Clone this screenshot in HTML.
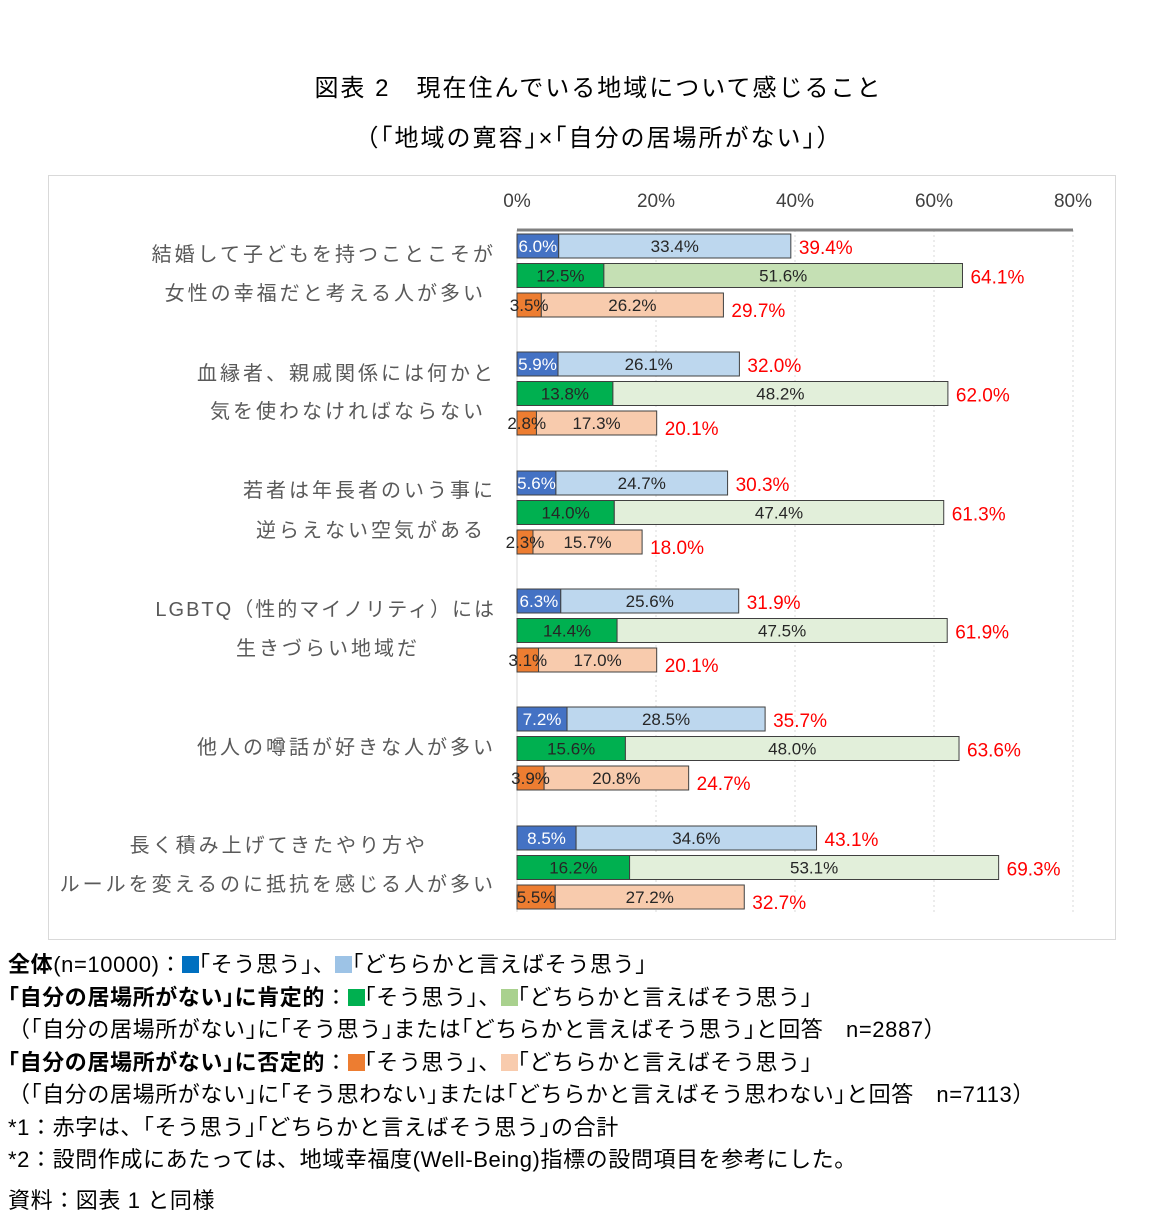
<!DOCTYPE html><html><head><meta charset="utf-8"><style>
body{margin:0;background:#fff;width:1161px;height:1213px;overflow:hidden;font-family:"Liberation Sans","Noto Sans CJK JP",sans-serif}
.t{position:absolute;left:0;width:1161px;text-align:center;font-size:24px;color:#000;letter-spacing:2px}
.n{position:absolute;left:8px;font-size:22px;color:#000;white-space:nowrap;letter-spacing:0.6px}
.sq{display:inline-block;width:17px;height:17px;vertical-align:-1px}
</style></head><body>
<div class="t" style="top:68px;left:18px">図表 2　現在住んでいる地域について感じること</div>
<div class="t" style="top:118px;left:18px">（｢地域の寛容｣×｢自分の居場所がない｣）</div>
<svg style="position:absolute;left:0;top:0" width="1161" height="945" font-family="Liberation Sans,Noto Sans CJK JP,sans-serif">
<rect x="48.5" y="175.5" width="1067" height="764" fill="#fff" stroke="#d9d9d9"/>
<g stroke="#d9d9d9" stroke-dasharray="2,3">
<line x1="656" y1="230" x2="656" y2="912"/><line x1="795" y1="230" x2="795" y2="912"/><line x1="934" y1="230" x2="934" y2="912"/><line x1="1073" y1="230" x2="1073" y2="912"/></g>
<line x1="517" y1="230" x2="517" y2="912" stroke="#d9d9d9"/>
<line x1="517" y1="230" x2="1073" y2="230" stroke="#808080" stroke-width="3"/>
<g font-size="19" fill="#404040" text-anchor="middle"><text x="517" y="207">0%</text><text x="656" y="207">20%</text><text x="795" y="207">40%</text><text x="934" y="207">60%</text><text x="1073" y="207">80%</text></g>
<g font-size="20" fill="#595959" text-anchor="end" letter-spacing="3">
<text x="496" y="261">結婚して子どもを持つことこそが</text><text x="486" y="300">女性の幸福だと考える人が多い</text>
<text x="496" y="380">血縁者、親戚関係には何かと</text><text x="486" y="418">気を使わなければならない</text>
<text x="496" y="497">若者は年長者のいう事に</text><text x="486" y="537">逆らえない空気がある</text>
<text x="496" y="616" letter-spacing="2">LGBTQ（性的マイノリティ）には</text><text x="420" y="655">生きづらい地域だ</text>
<text x="496" y="754">他人の噂話が好きな人が多い</text>
<text x="428" y="852">長く積み上げてきたやり方や</text><text x="496" y="891">ルールを変えるのに抵抗を感じる人が多い</text>
</g>
<g id="bars" font-size="17"></g>
</svg>
<script>
var d=[[6.0,33.4,12.5,51.6,3.5,26.2],[5.9,26.1,13.8,48.2,2.8,17.3],[5.6,24.7,14.0,47.4,2.3,15.7],[6.3,25.6,14.4,47.5,3.1,17.0],[7.2,28.5,15.6,48.0,3.9,20.8],[8.5,34.6,16.2,53.1,5.5,27.2]];
var tot=[[39.4,64.1,29.7],[32.0,62.0,20.1],[30.3,61.3,18.0],[31.9,61.9,20.1],[35.7,63.6,24.7],[43.1,69.3,32.7]];
var tops=[234,352,471,589,707,826],s=6.95,h='';
var cols=[['#4472c4','#bdd7ee','#fff'],['#00b050','#c5e0b4','#262626'],['#ed7d31','#f8cbad','#262626']];
d.forEach(function(r,g){for(var k=0;k<3;k++){var y=tops[g]+k*29.5,a=r[2*k],b=r[2*k+1],c=cols[k],x1=517+a*s,x2=x1+b*s;
var lg=(k==1&&g>0)?'#e2efda':c[1];
h+='<rect x="517" y="'+y+'" width="'+(a*s)+'" height="24" fill="'+c[0]+'" stroke="#404040"/>';
h+='<rect x="'+x1+'" y="'+y+'" width="'+(b*s)+'" height="24" fill="'+lg+'" stroke="#404040"/>';
h+='<text x="'+(517+a*s/2)+'" y="'+(y+18)+'" text-anchor="middle" fill="'+c[2]+'">'+a.toFixed(1)+'%</text>';
h+='<text x="'+((x1+x2)/2)+'" y="'+(y+18)+'" text-anchor="middle" fill="#262626">'+b.toFixed(1)+'%</text>';
var off=[2,2,6][k];
h+='<text x="'+(x2+8)+'" y="'+(y+18+off)+'" font-size="19" fill="#ff0000">'+tot[g][k].toFixed(1)+'%</text>';}});
document.getElementById('bars').innerHTML=h;
</script>
<div class="n" style="top:947px"><b>全体</b>(n=10000)：<span class="sq" style="background:#0070c0"></span>｢そう思う｣、<span class="sq" style="background:#9dc3e6"></span>｢どちらかと言えばそう思う｣</div>
<div class="n" style="top:980px"><b>｢自分の居場所がない｣に肯定的</b>：<span class="sq" style="background:#00b050"></span>｢そう思う｣、<span class="sq" style="background:#a9d18e"></span>｢どちらかと言えばそう思う｣</div>
<div class="n" style="top:1012px">（｢自分の居場所がない｣に｢そう思う｣または｢どちらかと言えばそう思う｣と回答　n=2887）</div>
<div class="n" style="top:1045px"><b>｢自分の居場所がない｣に否定的</b>：<span class="sq" style="background:#ed7d31"></span>｢そう思う｣、<span class="sq" style="background:#f8cbad"></span>｢どちらかと言えばそう思う｣</div>
<div class="n" style="top:1077px">（｢自分の居場所がない｣に｢そう思わない｣または｢どちらかと言えばそう思わない｣と回答　n=7113）</div>
<div class="n" style="top:1110px">*1：赤字は、｢そう思う｣｢どちらかと言えばそう思う｣の合計</div>
<div class="n" style="top:1142px">*2：設問作成にあたっては、地域幸福度(Well-Being)指標の設問項目を参考にした。</div>
<div class="n" style="top:1183px">資料：図表 1 と同様</div>
</body></html>
